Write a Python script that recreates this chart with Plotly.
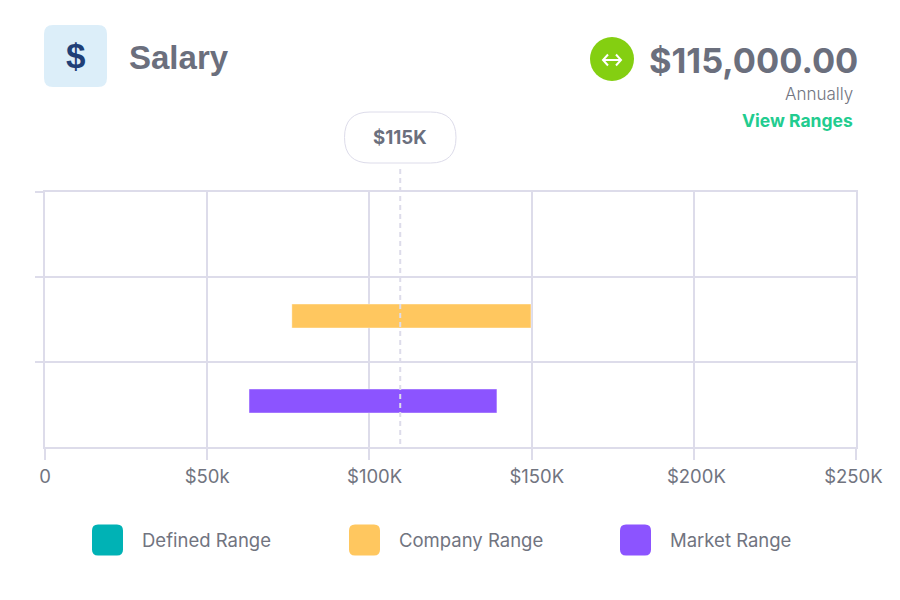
import plotly.graph_objects as go

# Data
categorias = ["Defined Range", "Company Range", "Market Range"]
inicio = [None, 76100, 62900]
fin = [None, 149800, 139300]
colores = ["#00b2b5", "#ffc75f", "#8c54ff"]
tick_vals = [0, 50000, 100000, 150000, 200000, 250000]
# the labels sit a bit off their ticks in the original, nbsp nudges them
tick_text = ["0", "$50k", "\u00a0\u00a0$100K", "\u00a0\u00a0$150K", "\u00a0$200K", "$250K\u00a0"]
marcador = 109500
marcador_texto = "$115K"

titulo = "Salary"
monto = "$115,000.00"
periodo = "Annually"
enlace = "View Ranges"

GRIS = "#6b6f7d"
LINEA = "#dddcea"
FUENTE = "Inter"

# plot area in page pixels
L, R, T, B = 45, 856, 192, 447


def px(x):
    return (x - L) / (R - L)


def py(y):
    return (B - y) / (B - T)


def redondeado(x0, y0, x1, y1, r):
    # rounded box as an svg path in paper coords
    a, b, c, d = px(x0), px(x1), py(y0), py(y1)
    rx, ry = r / (R - L), r / (B - T)
    return (f"M{a+rx},{c} L{b-rx},{c} Q{b},{c} {b},{c-ry} L{b},{d+ry} Q{b},{d} {b-rx},{d} "
            f"L{a+rx},{d} Q{a},{d} {a},{d+ry} L{a},{c-ry} Q{a},{c} {a+rx},{c} Z")


def texto(x, y, t, size, color=GRIS, anchor="left", bold=False, fuente=FUENTE, peso=None):
    f = dict(family=fuente, size=size, color=color)
    if peso:
        f["weight"] = peso
    return dict(xref="paper", yref="paper", x=px(x), y=py(y), text=f"<b>{t}</b>" if bold else t,
                showarrow=False, xanchor=anchor, yanchor="middle", font=f)


anchos = [f - i if i is not None else None for i, f in zip(inicio, fin)]

fig = go.Figure()
# bars sit slightly above the middle of their band
fig.add_trace(go.Bar(y=categorias, x=anchos, base=inicio, orientation="h", width=0.28, offset=-0.181,
                     marker=dict(color=colores, line=dict(color="rgba(255,255,255,0.35)", width=1)),
                     showlegend=False, hoverinfo="skip"))

formas = [
    # icon box
    dict(type="path", xref="paper", yref="paper", path=redondeado(44, 25, 107, 87, 9),
         fillcolor="#dceef9", line_width=0),
    # green circle
    dict(type="circle", xref="paper", yref="paper", x0=px(590), x1=px(634), y0=py(81), y1=py(37),
         fillcolor="#84cf11", line_width=0),
    # arrows in the circle
    dict(type="path", xref="paper", yref="paper",
         path=f"M{px(603)},{py(60)} L{px(621)},{py(60)} M{px(608)},{py(54.5)} L{px(603)},{py(60)} L{px(608)},{py(65.5)} "
              f"M{px(616)},{py(54.5)} L{px(621)},{py(60)} L{px(616)},{py(65.5)}",
         line=dict(color="white", width=2)),
    # pill
    dict(type="path", xref="paper", yref="paper", path=redondeado(344.5, 112, 456, 163, 25.5),
         fillcolor="white", line=dict(color=LINEA, width=1)),
    # marker line
    dict(type="line", xref="x", yref="paper", x0=marcador, x1=marcador, y0=py(169), y1=py(448),
         line=dict(color=LINEA, width=2, dash="5px,4px"), layer="above"),
]

notas = [
    texto(75.5, 56, "$", 35, "#1f3f77", "center", True, "Liberation Sans"),
    texto(127, 57.5, titulo, 33, GRIS, "left", True, "Liberation Sans"),
    texto(860, 60, monto, 34.4, GRIS, "right", True),
    texto(855, 94, periodo, 17, "#71747f", "right", peso=300),
    texto(855, 120.5, enlace, 17.5, "#22cc8f", "right", True),
    texto(400, 137.5, marcador_texto, 18.7, GRIS, "center", True),
]

# legend drawn by hand, rounded swatches
leyenda_x = [92, 349, 620]
for nombre, color, x in zip(categorias, colores, leyenda_x):
    formas.append(dict(type="path", xref="paper", yref="paper", path=redondeado(x, 524.5, x + 31, 555.5, 6),
                       fillcolor=color, line_width=0))
    notas.append(texto(x + 48, 539.5, nombre, 18.5, "#71747f"))

fig.update_layout(
    width=900, height=600, autosize=False,
    margin=dict(l=L, r=900 - R, t=T, b=600 - B, pad=0),
    paper_bgcolor="white", plot_bgcolor="white",
    shapes=formas, annotations=notas,
    font=dict(family=FUENTE, color="#71747f"),
)
fig.update_xaxes(range=[0, 250000], tickvals=tick_vals, ticktext=tick_text, showgrid=True,
                 gridcolor=LINEA, gridwidth=2, ticks="outside", ticklen=11, tickwidth=2, tickcolor=LINEA,
                 zeroline=False, showline=True, mirror=True, linecolor=LINEA, linewidth=2, ticklabelstandoff=1,
                 tickfont=dict(family=FUENTE, size=18.5, color="#71747f"))
fig.update_yaxes(type="category", categoryorder="array", categoryarray=categorias, autorange="reversed",
                 tickson="boundaries", showticklabels=False, showgrid=True, gridcolor=LINEA, gridwidth=2,
                 ticks="outside", ticklen=8, tickwidth=2, tickcolor=LINEA, zeroline=False,
                 showline=True, mirror=True, linecolor=LINEA, linewidth=2)

# page margin off so the figure sits at the window corner
fig.write_html("out.html", config=dict(displayModeBar=False),
               post_script="document.body.style.margin='0';")
